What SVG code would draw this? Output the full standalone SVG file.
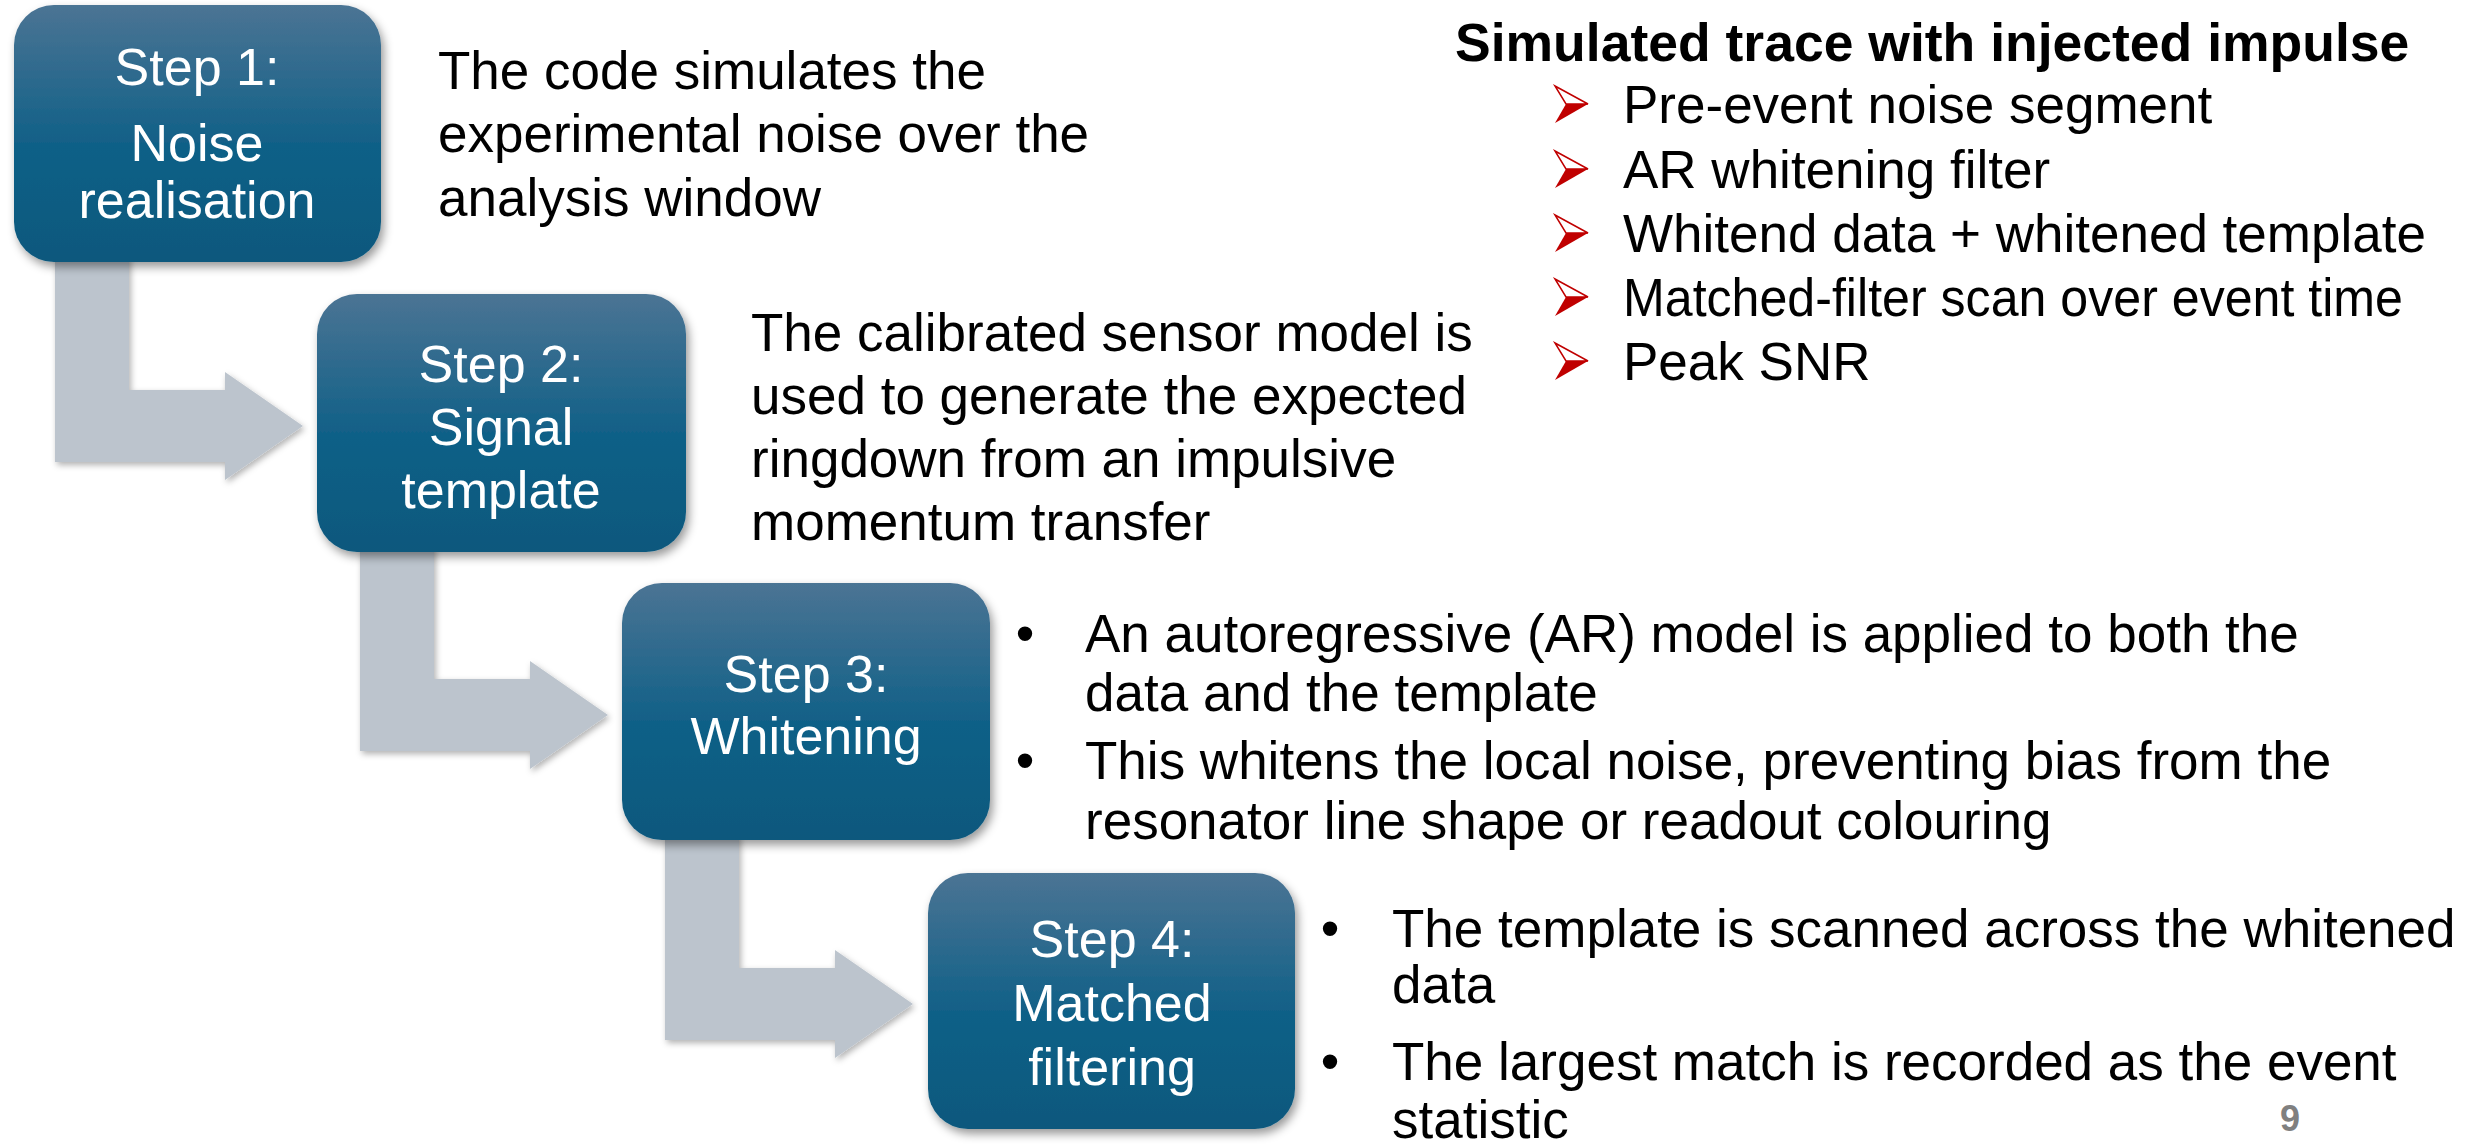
<svg xmlns="http://www.w3.org/2000/svg" width="2476" height="1144" viewBox="0 0 2476 1144">
<style>
.box{fill:url(#bg);filter:url(#sh)}
.bt{font-family:"Liberation Sans",Arial,sans-serif;font-size:52px;fill:#fff;text-anchor:middle}
.tx{font-family:"Liberation Sans",Arial,sans-serif;font-size:53px;fill:#000}
.ttl{font-family:"Liberation Sans",Arial,sans-serif;font-size:53.5px;font-weight:bold;fill:#000}
.arr{fill:#bcc4cd;filter:url(#ash)}
.bu{text-anchor:middle}
.up{fill:#fff;stroke:#c00000;stroke-width:1.5;stroke-linejoin:miter}
.lo{fill:#c00000}
.pg{font-family:"Liberation Sans",Arial,sans-serif;font-size:36px;font-weight:bold;fill:#808080}
</style>
<defs>
<linearGradient id="bg" x1="0" y1="0" x2="0" y2="1">
<stop offset="0" stop-color="#4b7494"/>
<stop offset="0.55" stop-color="#106087"/>
<stop offset="1" stop-color="#0b587d"/>
</linearGradient>
<filter id="sh" x="-10%" y="-10%" width="125%" height="125%">
<feDropShadow dx="3" dy="5" stdDeviation="5" flood-color="#000" flood-opacity="0.4"/>
</filter>
<filter id="ash" x="-10%" y="-10%" width="125%" height="125%">
<feDropShadow dx="2" dy="3" stdDeviation="3" flood-color="#000" flood-opacity="0.3"/>
</filter>
</defs>
<rect width="2476" height="1144" fill="#fff"/>
<g id="connectors">
<path class="arr" d="M55,255 L129,255 L129,390 L225,390 L225,372 L303,426 L225,480 L225,462 L55,462 Z"/>
<path class="arr" d="M360,545 L434,545 L434,679 L530,679 L530,661 L608,715 L530,769 L530,751 L360,751 Z"/>
<path class="arr" d="M665,834 L739,834 L739,968 L835,968 L835,950 L913,1004 L835,1058 L835,1040 L665,1040 Z"/>
</g>
<g id="step1">
<rect class="box" x="14" y="5" width="367" height="257" rx="40"/>
<text class="bt" x="197" y="85">Step 1:</text>
<text class="bt" x="197" y="161">Noise</text>
<text class="bt" x="197" y="218">realisation</text>
</g>
<g id="step2">
<rect class="box" x="317" y="294" width="369" height="258" rx="40"/>
<text class="bt" x="501" y="382">Step 2:</text>
<text class="bt" x="501" y="445">Signal</text>
<text class="bt" x="501" y="508">template</text>
</g>
<g id="step3">
<rect class="box" x="622" y="583" width="368" height="257" rx="40"/>
<text class="bt" x="806" y="692">Step 3:</text>
<text class="bt" x="806" y="754">Whitening</text>
</g>
<g id="step4">
<rect class="box" x="928" y="873" width="367" height="256" rx="40"/>
<text class="bt" x="1112" y="957">Step 4:</text>
<text class="bt" x="1112" y="1021">Matched</text>
<text class="bt" x="1112" y="1085">filtering</text>
</g>
<g id="text1">
<text class="tx" x="438" y="89">The code simulates the</text>
<text class="tx" x="438" y="152">experimental noise over the</text>
<text class="tx" x="438" y="216">analysis window</text>
</g>
<g id="text2">
<text class="tx" x="751" y="351">The calibrated sensor model is</text>
<text class="tx" x="751" y="414">used to generate the expected</text>
<text class="tx" x="751" y="477">ringdown from an impulsive</text>
<text class="tx" x="751" y="540">momentum transfer</text>
</g>
<g id="text3">
<text class="tx bu" x="1025" y="652">•</text>
<text class="tx" x="1085" y="652">An autoregressive (AR) model is applied to both the</text>
<text class="tx" x="1085" y="711">data and the template</text>
<text class="tx bu" x="1025" y="779">•</text>
<text class="tx" x="1085" y="779">This whitens the local noise, preventing bias from the</text>
<text class="tx" x="1085" y="839">resonator line shape or readout colouring</text>
</g>
<g id="text4">
<text class="tx bu" x="1330" y="947">•</text>
<text class="tx" x="1392" y="947">The template is scanned across the whitened</text>
<text class="tx" x="1392" y="1003">data</text>
<text class="tx bu" x="1330" y="1080">•</text>
<text class="tx" x="1392" y="1080">The largest match is recorded as the event</text>
<text class="tx" x="1392" y="1138">statistic</text>
</g>
<g id="summary">
<text class="ttl" x="1455" y="61">Simulated trace with injected impulse</text>
<g id="b1" transform="translate(1555,86)"><polygon class="up" points="0,0 33,18 11,18"/><polygon class="lo" points="11,18 33,18 0,37"/></g>
<text class="tx" x="1623" y="123">Pre-event noise segment</text>
<g id="b2" transform="translate(1555,151)"><polygon class="up" points="0,0 33,18 11,18"/><polygon class="lo" points="11,18 33,18 0,37"/></g>
<text class="tx" x="1623" y="188">AR whitening filter</text>
<g id="b3" transform="translate(1555,215)"><polygon class="up" points="0,0 33,18 11,18"/><polygon class="lo" points="11,18 33,18 0,37"/></g>
<text class="tx" x="1623" y="252">Whitend data + whitened template</text>
<g id="b4" transform="translate(1555,279)"><polygon class="up" points="0,0 33,18 11,18"/><polygon class="lo" points="11,18 33,18 0,37"/></g>
<text class="tx" x="1623" y="316" textLength="780" lengthAdjust="spacingAndGlyphs">Matched-filter scan over event time</text>
<g id="b5" transform="translate(1555,343)"><polygon class="up" points="0,0 33,18 11,18"/><polygon class="lo" points="11,18 33,18 0,37"/></g>
<text class="tx" x="1623" y="380">Peak SNR</text>
</g>
<text class="pg" x="2280" y="1131">9</text>
</svg>
